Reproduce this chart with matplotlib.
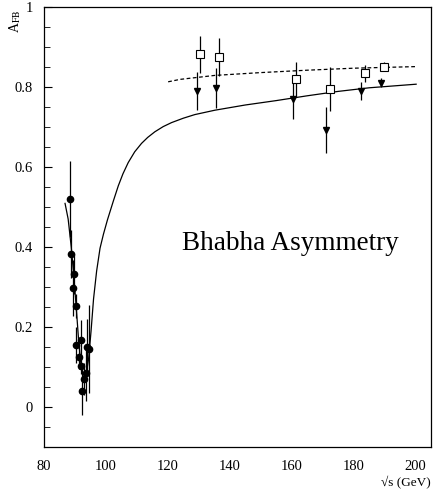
import matplotlib
matplotlib.use("Agg")
import matplotlib.pyplot as plt
from matplotlib.ticker import MultipleLocator

plt.rcParams['font.family'] = ['Liberation Serif', 'DejaVu Serif']
plt.rcParams['mathtext.fontset'] = 'stix'

# LEP1 points (dots)
lep1_x = [88.4, 88.6, 89.3, 89.7, 90.3, 90.3, 91.4, 91.8, 92.0, 92.3, 93.0, 93.5, 93.8, 94.6]
lep1_y = [0.519, 0.383, 0.297, 0.333, 0.253, 0.155, 0.126, 0.102, 0.168, 0.041, 0.070, 0.084, 0.151, 0.144]
lep1_err = [0.095, 0.06, 0.07, 0.05, 0.03, 0.045, 0.03, 0.02, 0.05, 0.06, 0.04, 0.07, 0.07, 0.11]

# high energy, open squares
sq_x = [130.5, 136.5, 161.4, 172.3, 183.6, 189.8]
sq_y = [0.882, 0.875, 0.819, 0.795, 0.834, 0.851]
sq_err = [0.046, 0.048, 0.044, 0.055, 0.021, 0.012]

# high energy, down triangles
tr_x = [129.3, 135.4, 160.5, 171.2, 182.5, 188.7]
tr_y = [0.790, 0.797, 0.769, 0.693, 0.790, 0.811]
tr_err = [0.047, 0.050, 0.050, 0.057, 0.022, 0.011]

# theory curves
th_x = [86.8, 87.8, 88.8, 89.6, 90.4, 91.2, 92.0, 92.8, 93.6, 94.4, 95.2, 96.0,
        97.0, 98.1, 99.2, 100.5, 102.4, 104.0, 105.5, 107.2, 109.3, 111.5, 113.5,
        115.8, 118.5, 121.2, 125.0, 128.7, 135.2, 145.0, 155.0, 165.0, 175.0,
        185.0, 200.2]
th_y = [0.509, 0.47, 0.40, 0.33, 0.25, 0.165, 0.10, 0.07, 0.08, 0.12, 0.19, 0.27,
        0.34, 0.397, 0.432, 0.468, 0.515, 0.553, 0.583, 0.611, 0.638, 0.659, 0.674,
        0.688, 0.701, 0.711, 0.722, 0.731, 0.742, 0.755, 0.766, 0.778, 0.789,
        0.798, 0.807]

dash_x = [120.1, 123.9, 135.2, 150.0, 165.0, 180.0, 190.0, 200.2]
dash_y = [0.813, 0.819, 0.829, 0.836, 0.842, 0.847, 0.849, 0.851]

fig = plt.figure(figsize=(4.33, 4.95), dpi=100)
ax = fig.add_axes([44/433, 48/495, 387/433, 440/495])

ax.plot(th_x, th_y, color='black', lw=0.9)
ax.plot(dash_x, dash_y, color='black', lw=0.9, ls=(0, (3, 2)))

ax.errorbar(lep1_x, lep1_y, yerr=lep1_err, fmt='o', color='black', ms=4.5,
            elinewidth=0.9, capsize=0)
ax.errorbar(tr_x, tr_y, yerr=tr_err, fmt='v', color='black', ms=5,
            elinewidth=0.9, capsize=0)
ax.errorbar(sq_x, sq_y, yerr=sq_err, fmt='s', color='black', mfc='white',
            mec='black', mew=0.8, ms=5.5, elinewidth=0.9, capsize=0)

ax.text(159.5, 0.41, 'Bhabha Asymmetry', fontsize=19.5, ha='center', va='center')

ax.set_xlim(80, 205)
ax.set_ylim(-0.1, 1.0)
ax.set_xticks([80, 100, 120, 140, 160, 180, 200])
ax.yaxis.set_major_locator(MultipleLocator(0.2))
ax.yaxis.set_minor_locator(MultipleLocator(0.05))
ax.set_yticks([0, 0.2, 0.4, 0.6, 0.8, 1.0])
ax.set_yticklabels(['0', '0.2', '0.4', '0.6', '0.8', '1'])
ax.tick_params(axis='x', length=0, labelsize=10.5, pad=9)
ax.tick_params(axis='y', which='major', direction='in', length=6, labelsize=10.5, pad=8)
ax.tick_params(axis='y', which='minor', direction='in', length=4)
for s in ax.spines.values():
    s.set_linewidth(0.9)

fig.text(15/433, 1 - 21/495, r'A$_{\rm FB}$', rotation=90, fontsize=10,
         ha='center', va='center')
fig.text(431/433, 1 - 483/495, '√s (GeV)', fontsize=9.5, ha='right', va='center')

fig.savefig('out.png', dpi=100)
